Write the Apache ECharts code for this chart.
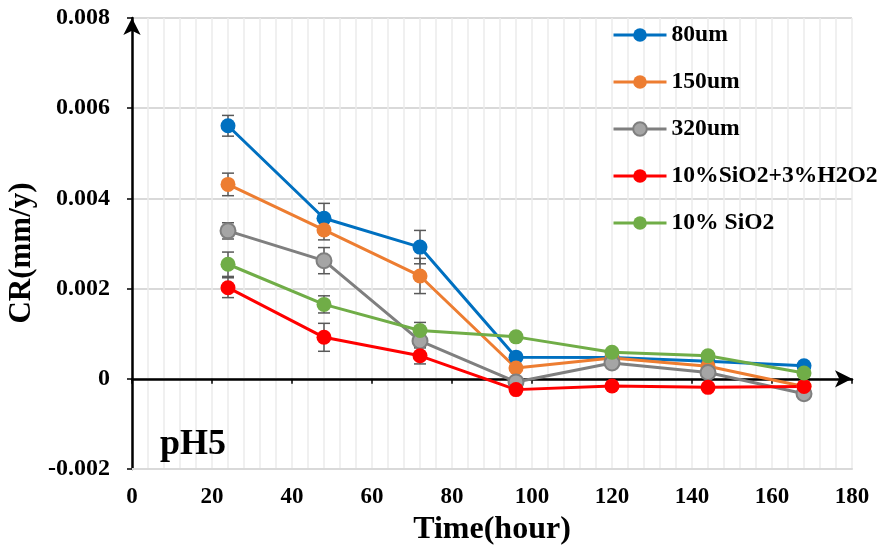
<!DOCTYPE html>
<html>
<head>
<meta charset="utf-8">
<script src="https://cdn.jsdelivr.net/npm/echarts@6/dist/echarts.min.js"></script>
<style>
  html, body { margin: 0; padding: 0; background: #fff; }
  #chart { width: 882px; height: 546px; }
</style>
</head>
<body>
<div id="chart"></div>
<script>
// Exposure time (hours)
const hours = [24, 48, 72, 96, 120, 144, 168];

// Corrosion rate (mm/y) per condition
const seriesNames = ['80um', '150um', '320um', '10%SiO2+3%H2O2', '10% SiO2'];
const cr80 = [0.00561, 0.00356, 0.00292, 0.00048, 0.00047, 0.00039, 0.00029];
const cr150 = [0.00431, 0.00330, 0.00228, 0.00024, 0.00046, 0.00028, -0.00017];
const cr320 = [0.00328, 0.00262, 0.00084, -0.00007, 0.00035, 0.00014, -0.00033];
const crSiO2H2O2 = [0.00202, 0.00092, 0.00051, -0.00024, -0.00016, -0.00019, -0.00017];
const crSiO2 = [0.00254, 0.00165, 0.00107, 0.00093, 0.00059, 0.00051, 0.00013];

// Error bar half-widths (first three measurements only)
const err80 = [0.00023, 0.00033, 0.00037, null, null, null, null];
const err150 = [0.00025, 0.00022, 0.00039, null, null, null, null];
const err320 = [0.00018, 0.00029, 0.00015, null, null, null, null];
const errSiO2H2O2 = [0.00022, 0.00031, 0.00018, null, null, null, null];
const errSiO2 = [0.00027, 0.00019, 0.00018, null, null, null, null];

// Axis ticks
const xTicks = { min: 0, max: 180, interval: 20 };
const yTicks = { min: -0.002, max: 0.008, interval: 0.002 };

const colors = ['#0070C0', '#ED7D31', '#7F7F7F', '#FF0000', '#70AD47'];
const fills = ['#0070C0', '#ED7D31', '#A5A5A5', '#FF0000', '#70AD47'];
const values = [cr80, cr150, cr320, crSiO2H2O2, crSiO2];
const errors = [err80, err150, err320, errSiO2H2O2, errSiO2];

const FONT = 'Liberation Serif';

const lineSeries = seriesNames.map((name, i) => ({
  name,
  type: 'line',
  xAxisIndex: 0,
  yAxisIndex: 0,
  data: hours.map((h, k) => [h, values[i][k]]),
  symbol: 'circle',
  symbolSize: 15,
  lineStyle: { color: colors[i], width: 3 },
  itemStyle: i === 2
    ? { color: fills[i], borderColor: colors[i], borderWidth: 2 }
    : { color: fills[i], borderColor: fills[i], borderWidth: 0 },
  emphasis: { disabled: true },
  z: 3
}));

// Error bars as a custom series: [x, low, high]
const errData = [];
values.forEach((vals, i) => {
  hours.forEach((h, k) => {
    const e = errors[i][k];
    if (e != null) errData.push([h, vals[k] - e, vals[k] + e]);
  });
});

const errorSeries = {
  type: 'custom',
  xAxisIndex: 0,
  yAxisIndex: 0,
  data: errData,
  encode: { x: 0, y: [1, 2] },
  z: 2,
  silent: true,
  renderItem: function (params, api) {
    const x = api.value(0);
    const lo = api.coord([x, api.value(1)]);
    const hi = api.coord([x, api.value(2)]);
    const half = 6;
    const st = { stroke: '#595959', lineWidth: 1.5 };
    return {
      type: 'group',
      children: [
        { type: 'line', shape: { x1: lo[0], y1: lo[1], x2: hi[0], y2: hi[1] }, style: st },
        { type: 'line', shape: { x1: lo[0] - half, y1: lo[1], x2: lo[0] + half, y2: lo[1] }, style: st },
        { type: 'line', shape: { x1: hi[0] - half, y1: hi[1], x2: hi[0] + half, y2: hi[1] }, style: st }
      ]
    };
  }
};

const chart = echarts.init(document.getElementById('chart'), null, { renderer: 'canvas' });

chart.setOption({
  backgroundColor: '#ffffff',
  animation: false,
  grid: { left: 132, right: 30, top: 18, bottom: 77, containLabel: false, outerBoundsMode: 'none' },
  legend: {
    orient: 'vertical',
    left: 612,
    top: 23,
    padding: 0,
    itemWidth: 53,
    itemHeight: 17,
    itemGap: 23,
    data: seriesNames,
    lineStyle: { width: 3 },
    textStyle: { fontFamily: FONT, fontWeight: 'bold', fontSize: 23.6, color: '#000' }
  },
  xAxis: [
    {
      type: 'value',
      min: xTicks.min,
      max: xTicks.max,
      interval: xTicks.interval,
      position: 'bottom',
      name: 'Time(hour)',
      nameLocation: 'middle',
      nameGap: 45,
      nameTextStyle: { fontFamily: FONT, fontWeight: 'bold', fontSize: 32, color: '#000' },
      axisLine: { show: true, onZero: false, lineStyle: { color: '#d9d9d9', width: 2 } },
      axisTick: { show: false },
      axisLabel: { fontFamily: FONT, fontWeight: 'bold', fontSize: 23, color: '#000', margin: 17 },
      splitLine: { show: true, lineStyle: { color: '#ebebeb', width: 1.5 } },
      minorTick: { show: false, splitNumber: 5 },
      minorSplitLine: { show: true, lineStyle: { color: '#ebebeb', width: 1.5 } }
    },
    {
      type: 'value',
      min: xTicks.min,
      max: xTicks.max,
      interval: xTicks.interval,
      position: 'bottom',
      axisLine: {
        show: true,
        onZero: true,
        symbol: ['none', 'arrow'],
        symbolSize: [13, 17],
        lineStyle: { color: '#000', width: 2.5 }
      },
      axisTick: { show: true, length: 5, lineStyle: { color: '#000', width: 1.5 } },
      axisLabel: { show: false },
      splitLine: { show: false }
    }
  ],
  yAxis: {
    type: 'value',
    min: yTicks.min,
    max: yTicks.max,
    interval: yTicks.interval,
    axisLine: {
      show: true,
      onZero: false,
      symbol: ['none', 'arrow'],
      symbolSize: [13, 17],
      lineStyle: { color: '#000', width: 2.5 }
    },
    axisTick: { show: true, length: 5, lineStyle: { color: '#000', width: 1.5 } },
    axisLabel: {
      fontFamily: FONT, fontWeight: 'bold', fontSize: 24, color: '#000', margin: 22,
      formatter: v => (Math.abs(v) < 1e-12 ? '0' : v.toFixed(3))
    },
    splitLine: { show: true, lineStyle: { color: '#d9d9d9', width: 2 } }
  },
  graphic: [
    {
      // vertical axis title
      type: 'text',
      x: 22,
      y: 253,
      rotation: Math.PI / 2,
      z: 10,
      style: {
        text: 'CR(mm/y)', fontFamily: FONT, fontWeight: 'bold', fontSize: 31, fill: '#000',
        align: 'center', verticalAlign: 'middle'
      }
    },
    {
      type: 'text',
      left: 160,
      top: 427,
      z: 10,
      style: { text: 'pH5', fontFamily: FONT, fontWeight: 'bold', fontSize: 36, fill: '#000' }
    }
  ],
  series: [errorSeries].concat(lineSeries)
});
</script>
</body>
</html>
